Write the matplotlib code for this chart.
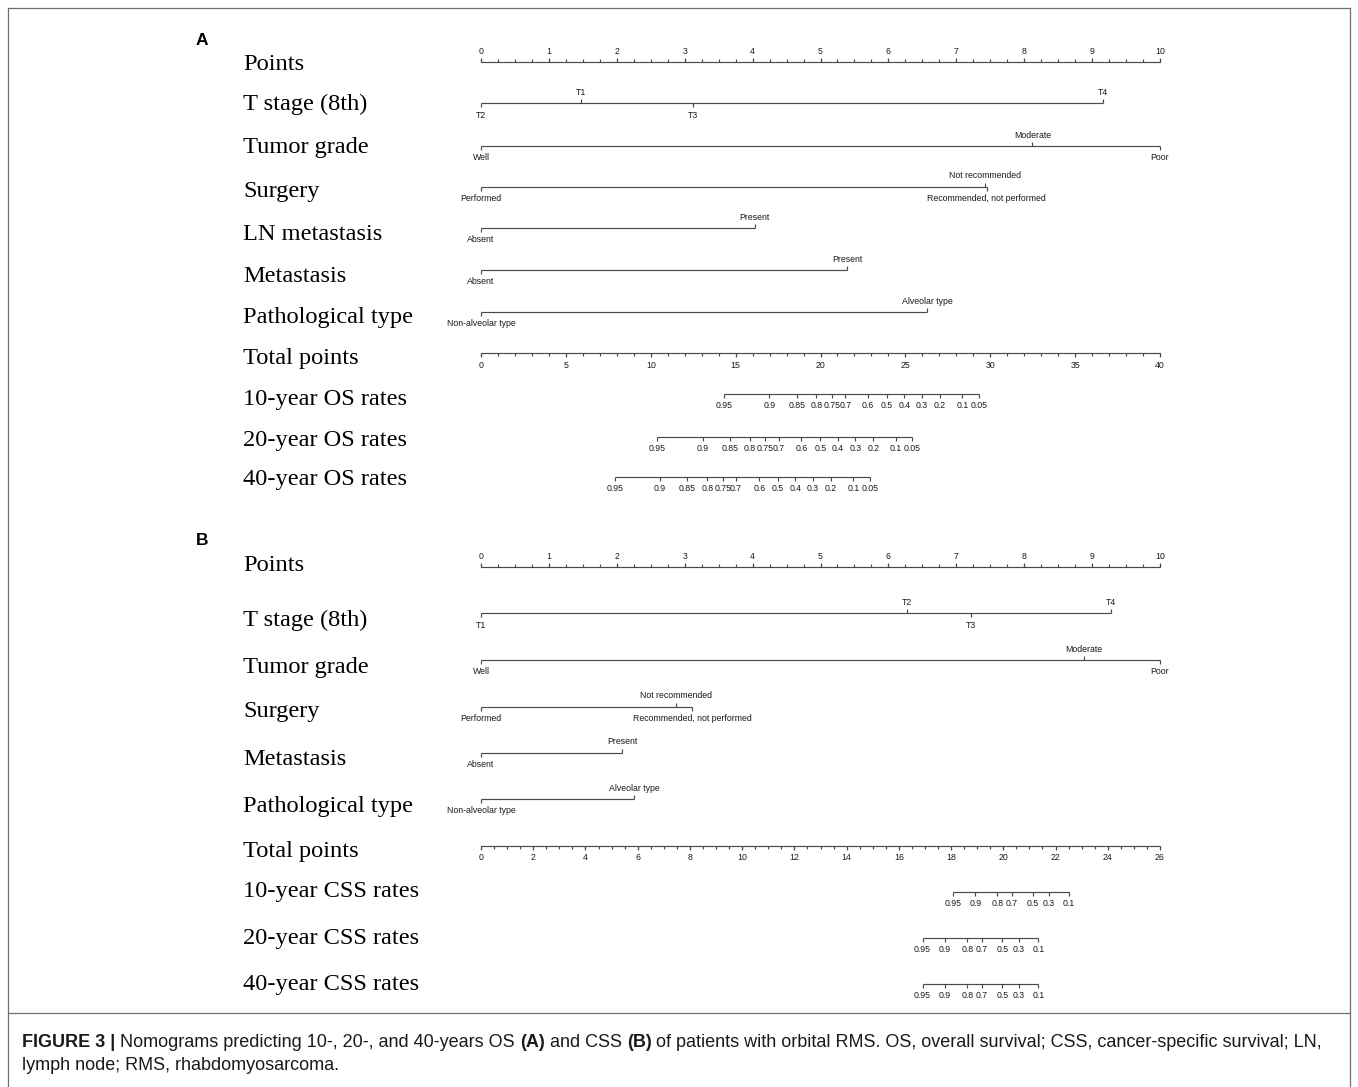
import matplotlib
matplotlib.use("Agg")
import matplotlib.pyplot as plt
from matplotlib import font_manager as fm
from matplotlib.lines import Line2D
import numpy as np

# ------------------------------------------------------------------ data
# Panel A (overall survival)
A_row_names = ["Points", "T stage (8th)", "Tumor grade", "Surgery", "LN metastasis",
               "Metastasis", "Pathological type", "Total points",
               "10-year OS rates", "20-year OS rates", "40-year OS rates"]
A_points_max = 10
A_tstage_levels = ["T2", "T1", "T3", "T4"]
A_tstage_points = [0.0, 1.48, 3.12, 9.16]
A_grade_levels = ["Well", "Moderate", "Poor"]
A_grade_points = [0.0, 8.12, 10.0]
A_surgery_levels = ["Performed", "Not recommended", "Recommended, not performed"]
A_surgery_points = [0.0, 7.43, 7.45]
A_ln_levels = ["Absent", "Present"]
A_ln_points = [0.0, 4.03]
A_met_levels = ["Absent", "Present"]
A_met_points = [0.0, 5.39]
A_path_levels = ["Non-alveolar type", "Alveolar type"]
A_path_points = [0.0, 6.57]
A_total_max = 40
A_total_major = 5
A_total_minor = 1
A_rate_labels = ["0.95", "0.9", "0.85", "0.8", "0.75", "0.7", "0.6", "0.5",
                 "0.4", "0.3", "0.2", "0.1", "0.05"]
A_os10_total = [14.33, 16.98, 18.60, 19.75, 20.69, 21.46, 22.80, 23.92, 24.94, 25.96, 27.04, 28.36, 29.36]
A_os20_total = [10.39, 13.06, 14.67, 15.83, 16.75, 17.56, 18.87, 19.99, 21.03, 22.05, 23.11, 24.43, 25.41]
A_os40_total = [7.89, 10.54, 12.14, 13.34, 14.24, 15.02, 16.40, 17.50, 18.52, 19.55, 20.61, 21.93, 22.90]

# Panel B (cancer-specific survival)
B_row_names = ["Points", "T stage (8th)", "Tumor grade", "Surgery", "Metastasis",
               "Pathological type", "Total points",
               "10-year CSS rates", "20-year CSS rates", "40-year CSS rates"]
B_points_max = 10
B_tstage_levels = ["T1", "T2", "T3", "T4"]
B_tstage_points = [0.0, 6.28, 7.21, 9.28]
B_grade_levels = ["Well", "Moderate", "Poor"]
B_grade_points = [0.0, 8.88, 10.0]
B_surgery_levels = ["Performed", "Not recommended", "Recommended, not performed"]
B_surgery_points = [0.0, 2.87, 3.11]
B_met_levels = ["Absent", "Present"]
B_met_points = [0.0, 2.08]
B_path_levels = ["Non-alveolar type", "Alveolar type"]
B_path_points = [0.0, 2.26]
B_total_max = 26
B_total_major = 2
B_total_minor = 0.5
B_rate_labels = ["0.95", "0.9", "0.8", "0.7", "0.5", "0.3", "0.1"]
B_css10_total = [18.09, 18.93, 19.77, 20.34, 21.13, 21.75, 22.50]
B_css20_total = [16.91, 17.76, 18.62, 19.18, 19.96, 20.59, 21.34]
B_css40_total = [16.91, 17.76, 18.62, 19.18, 19.96, 20.59, 21.34]

caption_line1 = [("FIGURE 3 |", True), (" Nomograms predicting 10-, 20-, and 40-years OS ", False),
                 ("(A)", True), (" and CSS ", False), ("(B)", True),
                 (" of patients with orbital RMS. OS, overall survival; CSS, cancer-specific survival; LN,", False)]
caption_line2 = "lymph node; RMS, rhabdomyosarcoma."

# ------------------------------------------------------------------ layout / style
W, H = 1358, 1087
DPI = 100
X0_PX, X10_PX = 481.0, 1160.0          # pixel positions of 0 and 10 points
PX_PER_PT = (X10_PX - X0_PX) / 10.0

names = {f.name for f in fm.fontManager.ttflist}
NARROW = "Liberation Sans Narrow" in names
SMALL_FAM = ["Liberation Sans Narrow", "Liberation Sans", "DejaVu Sans"] if NARROW else ["Liberation Sans", "DejaVu Sans"]
SMALL_SIZE = 7.4 if NARROW else 6.3
SERIF_FAM = ["Liberation Serif", "DejaVu Serif"]
SERIF_SIZE = 17.6
LC = "#4a4a4a"
TC = "#1a1a1a"
LW = 0.85
MAJ, MINL, CATL = 4.0, 3.0, 4.0
ABOVE, BELOW = 10.7, 11.7

fig = plt.figure(figsize=(W / DPI, H / DPI), dpi=DPI)
ax = fig.add_axes([0, 0, 1, 1])
ax.set_xlim((0 - X0_PX) / PX_PER_PT, (W - X0_PX) / PX_PER_PT)
ax.set_ylim(H, 0)
ax.axis("off")


def px(xp):
    return (xp - X0_PX) / PX_PER_PT


def small_text(x, y, s):
    ax.text(x, y, s, ha="center", va="center", fontsize=SMALL_SIZE, family=SMALL_FAM, color=TC)


def baseline_line(x0, x1, y):
    ax.plot([x0, x1], [y, y], color=LC, lw=LW, solid_capstyle="butt")


def ticks(xs, y, length, up):
    y2 = y - length if up else y + length
    ax.vlines(xs, y, y2, color=LC, lw=LW)


def points_axis(y, vmax):
    baseline_line(0, vmax, y)
    major = np.arange(0, vmax + 1e-9, 1)
    minor = np.arange(0, vmax + 1e-9, 0.25)
    ticks(minor, y, MINL, True)
    ticks(major, y, MAJ, True)
    for v in major:
        small_text(v, y - ABOVE, f"{v:g}")


def total_axis(y, tmax, step_major, step_minor, pts_max):
    scale = pts_max / tmax
    baseline_line(0, tmax * scale, y)
    major = np.arange(0, tmax + 1e-9, step_major)
    minor = np.arange(0, tmax + 1e-9, step_minor)
    ticks(minor * scale, y, MINL, False)
    ticks(major * scale, y, MAJ, False)
    for v in major:
        small_text(v * scale, y + BELOW, f"{v:g}")


def rate_axis(y, totals, labels, tmax, pts_max):
    scale = pts_max / tmax
    xs = np.array(totals) * scale
    baseline_line(xs.min(), xs.max(), y)
    ticks(xs, y, MAJ, False)
    for x, lab in zip(xs, labels):
        small_text(x, y + BELOW, lab)


def cat_axis(y, levels, pts):
    order = np.argsort(pts, kind="stable")
    p = np.array(pts)
    baseline_line(p.min(), p.max(), y)
    for k, i in enumerate(order):
        up = (k % 2 == 1)
        ticks([p[i]], y, CATL, up)
        small_text(p[i], y - ABOVE if up else y + BELOW, levels[i])


def row_labels(names_, baselines):
    for n, b in zip(names_, baselines):
        ax.text(px(243), b, n, ha="left", va="baseline", fontsize=SERIF_SIZE,
                family=SERIF_FAM, color="black")


# ------------------------------------------------------------------ panel A
A_lines = [61.7, 103.3, 146.0, 186.7, 228.3, 270.0, 311.7, 353.3, 394.3, 436.7, 477.0]
A_base = [70, 110, 153, 197, 240, 282, 323, 364, 405, 446, 485]
points_axis(A_lines[0], A_points_max)
cat_axis(A_lines[1], A_tstage_levels, A_tstage_points)
cat_axis(A_lines[2], A_grade_levels, A_grade_points)
cat_axis(A_lines[3], A_surgery_levels, A_surgery_points)
cat_axis(A_lines[4], A_ln_levels, A_ln_points)
cat_axis(A_lines[5], A_met_levels, A_met_points)
cat_axis(A_lines[6], A_path_levels, A_path_points)
total_axis(A_lines[7], A_total_max, A_total_major, A_total_minor, A_points_max)
rate_axis(A_lines[8], A_os10_total, A_rate_labels, A_total_max, A_points_max)
rate_axis(A_lines[9], A_os20_total, A_rate_labels, A_total_max, A_points_max)
rate_axis(A_lines[10], A_os40_total, A_rate_labels, A_total_max, A_points_max)
row_labels(A_row_names, A_base)

# ------------------------------------------------------------------ panel B
B_lines = [567.0, 613.3, 660.0, 706.7, 752.7, 799.0, 845.5, 891.7, 937.7, 984.0]
B_base = [571, 626, 673, 717, 765, 812, 857, 897, 944, 990]
points_axis(B_lines[0], B_points_max)
cat_axis(B_lines[1], B_tstage_levels, B_tstage_points)
cat_axis(B_lines[2], B_grade_levels, B_grade_points)
cat_axis(B_lines[3], B_surgery_levels, B_surgery_points)
cat_axis(B_lines[4], B_met_levels, B_met_points)
cat_axis(B_lines[5], B_path_levels, B_path_points)
total_axis(B_lines[6], B_total_max, B_total_major, B_total_minor, B_points_max)
rate_axis(B_lines[7], B_css10_total, B_rate_labels, B_total_max, B_points_max)
rate_axis(B_lines[8], B_css20_total, B_rate_labels, B_total_max, B_points_max)
rate_axis(B_lines[9], B_css40_total, B_rate_labels, B_total_max, B_points_max)
row_labels(B_row_names, B_base)

# panel letters
for letter, base in (("A", 45), ("B", 545)):
    ax.text(px(196), base, letter, ha="left", va="baseline", fontsize=12.5,
            fontweight="bold", family=["Liberation Sans", "DejaVu Sans"], color="black")

# ------------------------------------------------------------------ frame
def fline(x0, y0, x1, y1):
    fig.add_artist(Line2D([x0 / W, x1 / W], [1 - y0 / H, 1 - y1 / H],
                          transform=fig.transFigure, color="#6e6e6e", lw=0.9))

fline(8, 8, 1350, 8)
fline(8, 8, 8, H + 2)
fline(1350, 8, 1350, H + 2)
fline(8, 1013, 1350, 1013)

# ------------------------------------------------------------------ caption
CAP_FAM = SMALL_FAM
renderer = fig.canvas.get_renderer()


def draw_segments(segs, x_px, y_px, size):
    arts = []
    x = x_px
    space_w = None
    for txt, bold in segs:
        lead = len(txt) - len(txt.lstrip(" "))
        trail = len(txt) - len(txt.rstrip(" "))
        core = txt.strip(" ")
        if space_w is None:
            t1 = fig.text(0, 0, "a a", fontsize=size, family=CAP_FAM)
            t2 = fig.text(0, 0, "aa", fontsize=size, family=CAP_FAM)
            space_w = (t1.get_window_extent(renderer).width - t2.get_window_extent(renderer).width)
            t1.remove(); t2.remove()
        x += lead * space_w
        t = fig.text(x / W, 1 - y_px / H, core, fontsize=size, family=CAP_FAM,
                     fontweight="bold" if bold else "normal", va="baseline", ha="left", color=TC)
        arts.append(t)
        x += t.get_window_extent(renderer).width + trail * space_w
    return arts, x - x_px


size0 = 12.0
arts, width = draw_segments(caption_line1, 22, 1047, size0)
for a in arts:
    a.remove()
cap_size = size0 * (1326 - 22) / width
draw_segments(caption_line1, 22, 1047, cap_size)
fig.text(22 / W, 1 - 1070 / H, caption_line2, fontsize=cap_size, family=CAP_FAM,
         va="baseline", ha="left", color=TC)

fig.savefig("out.png", dpi=DPI, facecolor="white")
